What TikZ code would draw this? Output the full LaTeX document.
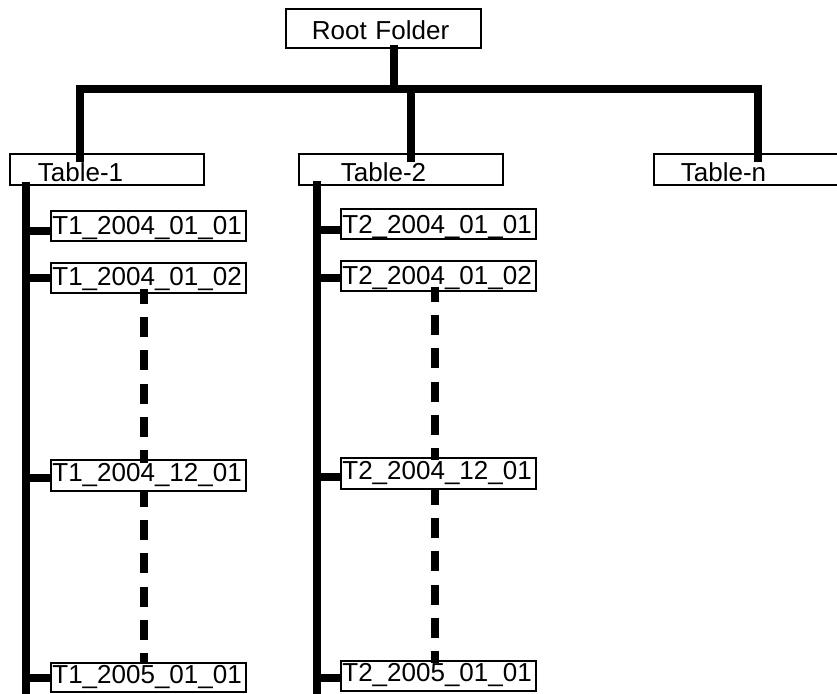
\documentclass[tikz,border=0pt]{standalone}
\usepackage{fontspec}
\setmainfont{Liberation Sans}
\begin{document}
\begin{tikzpicture}[x=1pt,y=-1pt,
  fbox/.style={draw, line width=1.8pt, inner sep=0pt, anchor=north west, align=left,
    font=\fontsize{26}{29}\selectfont, fill=white},
  tabbox/.style={fbox, text height=28pt, text depth=3pt},
  leaf/.style={fbox, text width=195pt},
  conn/.style={line width=7.5pt, line cap=butt, line join=miter},
  stub/.style={line width=8pt},
  dots/.style={line width=7.5pt, dash pattern=on 20pt off 13.33pt, dash phase=5pt}]
\useasboundingbox (0,0) rectangle (837,693);
\clip (0,0) rectangle (837,693);

% boxes
\node[fbox, text width=195pt, text height=31pt, text depth=8pt] (root) at (285,8) {\hspace*{26pt}Root Folder};
\node[tabbox, text width=194pt] (tab1) at (9,153) {\hspace*{28pt}Table-1};
\node[tabbox, text width=204pt] (tab2) at (298,153) {\hspace*{42pt}Table-2};
\node[tabbox, text width=204pt] (tabn) at (653,153) {\hspace*{27pt}Table-n};

\node[leaf, text height=24pt, text depth=6pt] (t11) at (50,210) {\hspace*{1.5pt}T1\_2004\_01\_01};
\node[leaf, text height=23pt, text depth=7pt] (t12) at (50,262) {\hspace*{1.5pt}T1\_2004\_01\_02};
\node[leaf, text height=22pt, text depth=9pt] (t13) at (50,459) {\hspace*{1.5pt}T1\_2004\_12\_01};
\node[leaf, text height=21pt, text depth=8pt] (t14) at (50,662) {\hspace*{1.5pt}T1\_2005\_01\_01};

\node[leaf, text height=25pt, text depth=5pt] (t21) at (340,208) {\hspace*{1.5pt}T2\_2004\_01\_01};
\node[leaf, text height=24pt, text depth=6pt] (t22) at (340,260) {\hspace*{1.5pt}T2\_2004\_01\_02};
\node[leaf, text height=22pt, text depth=9pt] (t23) at (340,457) {\hspace*{1.5pt}T2\_2004\_12\_01};
\node[leaf, text height=21pt, text depth=9pt] (t24) at (340,660) {\hspace*{1.5pt}T2\_2005\_01\_01};

% top-level tree
\coordinate (rt) at ([shift={(109,-4)}]root.south west);
\coordinate (jL) at (80,89);
\coordinate (jR) at (758,89);
\coordinate (j2) at (411,89);
\draw[conn] ([shift={(71,9)}]tab1.north west) -- (jL) -- (jR) -- ([shift={(105,9)}]tabn.north west);
\draw[conn] (rt) -- (rt |- jL);
\draw[conn] (j2) -- ([shift={(113,9)}]tab2.north west);

% trunks
\coordinate (tr1) at ([shift={(17,-4)}]tab1.south west);
\coordinate (tr2) at ([shift={(19,-5)}]tab2.south west);
\coordinate (tr1e) at (26,700);
\coordinate (tr2e) at (317,700);
\draw[conn] (tr1) -- (tr1e);
\draw[conn] (tr2) -- (tr2e);

% stubs
\coordinate (s11) at ([shift={(2,5)}]t11.west);
\coordinate (s12) at ([shift={(2,0)}]t12.west);
\coordinate (s13) at ([shift={(2,3)}]t13.west);
\coordinate (s14) at ([shift={(2,0.5)}]t14.west);
\coordinate (s21) at ([shift={(2,6)}]t21.west);
\coordinate (s22) at ([shift={(2,2.5)}]t22.west);
\coordinate (s23) at ([shift={(2,3.5)}]t23.west);
\coordinate (s24) at ([shift={(2,2)}]t24.west);
\foreach \s in {s11,s12,s13,s14} \draw[stub] (\s) -- (tr1 |- \s);
\foreach \s in {s21,s22,s23,s24} \draw[stub] (\s) -- (tr2 |- \s);

% dotted continuations
\draw[dots] ([shift={(94,-5)}]t12.south west) -- ([shift={(94,4)}]t13.north west);
\draw[dots] ([shift={(94,0)}]t13.south west) -- ([shift={(94,1)}]t14.north west);
\draw[dots] ([shift={(95,-5)}]t22.south west) -- ([shift={(95,3)}]t23.north west);
\draw[dots] ([shift={(95,0)}]t23.south west) -- ([shift={(95,3)}]t24.north west);
\end{tikzpicture}
\end{document}
